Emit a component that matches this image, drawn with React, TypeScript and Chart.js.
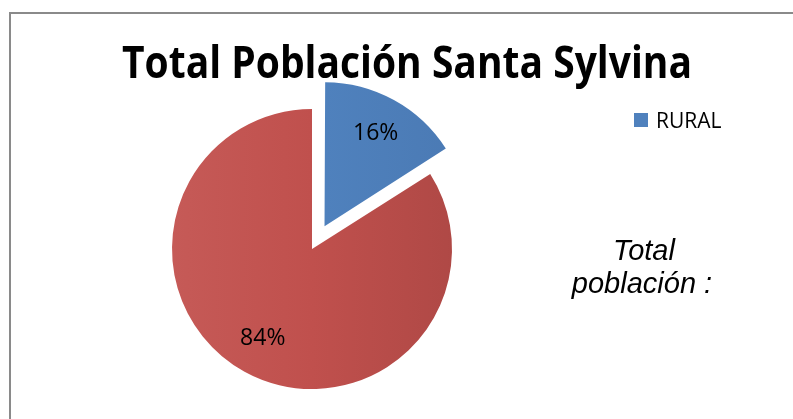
import React, { useEffect, useRef } from "react";
import { Chart, registerables } from "chart.js";

Chart.register(...registerables);

const chartTitle = "Total Población Santa Sylvina";
const categories = ["RURAL", "URBANA"];
const shares = [16, 84];
const sliceColors = ["#4F81BD", "#C0504D"];
const sliceDark = ["#4A79B3", "#AE4845"];
const sliceLight = ["#5386C2", "#C65B58"];
const legendShown = ["RURAL"];
const sideNote = ["Total", "población :"];

// Chart.js draws an arc shifted by offset/4 * (2 - sin(circumference))
const explode = [104, 0];

function shiftOf(arc: any, circ: number) {
  const off = (arc.options.offset || 0) / 4;
  const fix = 1 - Math.sin(Math.min(Math.PI, circ || 0));
  return off + off * fix;
}

const decorPlugin = {
  id: "decor",
  beforeDraw(chart: any) {
    const ctx = chart.ctx;
    ctx.save();
    ctx.fillStyle = "#ffffff";
    ctx.fillRect(0, 0, chart.width, chart.height);
    ctx.strokeStyle = "#8a8a8a";
    ctx.lineWidth = 2;
    ctx.beginPath();
    ctx.moveTo(10, chart.height + 5);
    ctx.lineTo(10, 13);
    ctx.lineTo(chart.width + 5, 13);
    ctx.stroke();
    ctx.restore();
  },
  afterDraw(chart: any) {
    const ctx = chart.ctx;
    ctx.save();
    // title
    ctx.fillStyle = "#000000";
    ctx.font = "bold 45px 'Open Sans'";
    ctx.textBaseline = "alphabetic";
    ctx.textAlign = "left";
    const tw = ctx.measureText(chartTitle).width;
    const targetW = 570;
    const sx = targetW / tw;
    ctx.save();
    ctx.translate(407 - targetW / 2, 78);
    ctx.scale(sx, 1);
    ctx.fillText(chartTitle, 0, 0);
    ctx.restore();

    // legend
    legendShown.forEach((lab, i) => {
      const idx = categories.indexOf(lab);
      ctx.fillStyle = sliceColors[idx];
      ctx.fillRect(634, 113 + i * 30, 14, 14);
      ctx.fillStyle = "#000000";
      ctx.font = "21px 'Open Sans'";
      ctx.textAlign = "left";
      ctx.fillText(lab, 656, 128 + i * 30);
    });

    // side note
    ctx.font = "italic 29px 'Liberation Sans'";
    ctx.textAlign = "center";
    ctx.fillStyle = "#000000";
    ctx.fillText(sideNote[0], 644, 260);
    ctx.fillText(sideNote[1], 642, 293);

    // percentage labels
    const meta = chart.getDatasetMeta(0);
    const total = shares.reduce((a, b) => a + b, 0);
    ctx.font = "23px 'Open Sans'";
    ctx.textAlign = "center";
    ctx.textBaseline = "middle";
    meta.data.forEach((arc: any, i: number) => {
      const p = arc.getProps(["x", "y", "startAngle", "endAngle", "outerRadius", "circumference"], true);
      const mid = (p.startAngle + p.endAngle) / 2;
      const s = shiftOf(arc, p.circumference);
      const cx = p.x + Math.cos(mid) * s;
      const cy = p.y + Math.sin(mid) * s;
      const r = p.outerRadius * 0.73;
      const pct = Math.round((shares[i] / total) * 100) + "%";
      ctx.fillStyle = "#000000";
      ctx.fillText(pct, cx + Math.cos(mid) * r, cy + Math.sin(mid) * r);
    });
    ctx.restore();
  },
};

export default function App() {
  const ref = useRef<HTMLCanvasElement | null>(null);
  useEffect(() => {
    if (!ref.current) return;
    const chart = new Chart(ref.current, {
      type: "pie",
      data: {
        labels: categories,
        datasets: [
          {
            data: shares,
            backgroundColor: (c: any) => {
              const ch = c.chart;
              const area = ch.chartArea;
              const i = c.dataIndex;
              if (!area || i === undefined) return sliceColors[i ?? 0];
              const g = ch.ctx.createLinearGradient(area.left + 40, 0, area.right - 40, 0);
              g.addColorStop(0, sliceLight[i]);
              g.addColorStop(0.5, sliceColors[i]);
              g.addColorStop(1, sliceDark[i]);
              return g;
            },
            borderWidth: 0,
            offset: explode,
            hoverOffset: 0,
          },
        ],
      },
      options: {
        responsive: false,
        animation: false,
        devicePixelRatio: 1,
        layout: { padding: { left: 120, top: 57, right: 289, bottom: 29 } },
        plugins: {
          legend: { display: false },
          title: { display: false },
          tooltip: { enabled: false },
        },
      },
      plugins: [decorPlugin],
    });
    return () => chart.destroy();
  }, []);
  return (
    <div style={{ position: "fixed", left: 0, top: 0, width: 793, height: 419, overflow: "hidden", background: "#fff" }}>
      <canvas ref={ref} width={793} height={470} style={{ display: "block" }} />
    </div>
  );
}
